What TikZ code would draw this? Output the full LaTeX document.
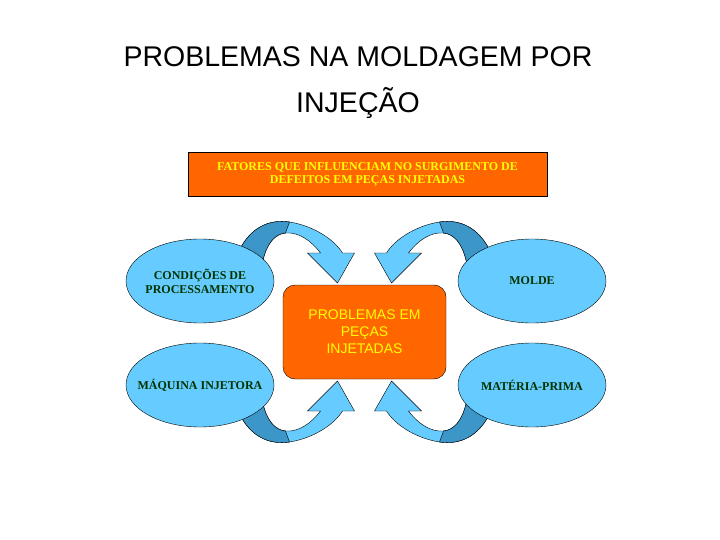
\documentclass[tikz,border=0pt]{standalone}
\usepackage{fontspec}
\setmainfont{Liberation Serif}
\newfontfamily\arialfont{Liberation Sans}
\usetikzlibrary{shapes.geometric}

\definecolor{boxorange}{RGB}{255,102,0}
\definecolor{txtyellow}{RGB}{255,255,0}
\definecolor{skyblue}{RGB}{102,204,255}
\definecolor{darksky}{RGB}{60,150,200}
\definecolor{darkgreen}{RGB}{0,51,0}

% one bent arrow, drawn round the centre of the middle box
\newcommand{\bentarrow}{%
  \fill[skyblue,draw=black,thin]
    (-127,-78) .. controls (-115,-105) and (-95,-113) .. (-75,-110)
    .. controls (-50,-106) and (-30,-92) .. (-22,-79)
    -- (-10,-79) -- (-27,-49) -- (-57,-79) -- (-44,-79)
    .. controls (-54,-92) and (-66,-100) .. (-79,-99)
    .. controls (-90,-98) and (-98,-88) .. (-102,-70) -- cycle;
  \fill[darksky,draw=black,thin]
    (-127,-78) .. controls (-115,-105) and (-95,-113) .. (-75,-110)
    -- (-79,-99)
    .. controls (-90,-98) and (-98,-88) .. (-102,-70) -- cycle;
}

\begin{document}
\begin{tikzpicture}
      [%%%%%%%%%%%%%%%%%%%%%%%%%%%%%%
          x=1pt, y=-1pt,
          factor/.style={ellipse,draw=black,thin,fill=skyblue,
                         minimum width=148pt,minimum height=84pt,
                         inner xsep=-12pt,inner ysep=0pt,
                         text=darkgreen,font=\fontsize{12}{14}\selectfont\bfseries,
                         align=center},
          headbox/.style={rectangle,draw=black,thin,fill=boxorange,
                          minimum width=359pt,minimum height=44pt,
                          text=txtyellow,font=\fontsize{12}{13}\selectfont\bfseries,
                          align=center},
          problembox/.style={rectangle,rounded corners=12pt,draw=black,thin,
                             fill=boxorange,minimum width=163pt,minimum height=94pt,
                             text=txtyellow,font=\arialfont\fontsize{14}{17}\selectfont,
                             align=center}
      ]%%%%%%%%%%%%%%%%%%%%%%%%%%%%%%

  \useasboundingbox (0,0) rectangle (720,540);

  \node[font=\arialfont\fontsize{28.5}{46}\selectfont,align=center] (title) at (358,83)
      {PROBLEMAS NA MOLDAGEM POR\\INJEÇÃO};

  \node[headbox] (fatores) at (367.5,174)
      {FATORES QUE INFLUENCIAM NO SURGIMENTO DE\\DEFEITOS EM PEÇAS INJETADAS};

  \node[problembox] (problemas) at (364.5,332)
      {PROBLEMAS EM\\PEÇAS\\INJETADAS};

  % bent arrows, behind the ellipses
  \begin{scope}[shift={(problemas.center)}]
    \bentarrow
  \end{scope}
  \begin{scope}[shift={(problemas.center)},xscale=-1]
    \bentarrow
  \end{scope}
  \begin{scope}[shift={(problemas.center)},yscale=-1]
    \bentarrow
  \end{scope}
  \begin{scope}[shift={(problemas.center)},xscale=-1,yscale=-1]
    \bentarrow
  \end{scope}

  \node[factor] (processo) at (200,281) {CONDIÇÕES DE\\PROCESSAMENTO};
  \node[factor] (molde)    at (532,281) {MOLDE};
  \node[factor] (maquina)  at (200,385) {MÁQUINA INJETORA};
  \node[factor] (materia)  at (532,385) {MATÉRIA-PRIMA};

  \end{tikzpicture}
\end{document}
